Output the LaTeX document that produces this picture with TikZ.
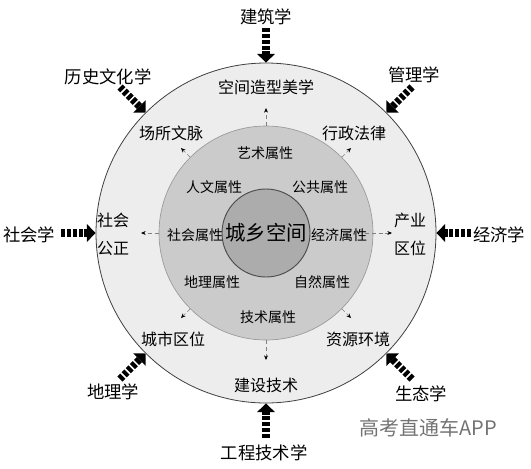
\documentclass[tikz,border=0pt]{standalone}
\usepackage{fontspec}
\setmainfont{Noto Sans CJK SC}
\usetikzlibrary{arrows.meta}
\definecolor{ringout}{RGB}{237,237,237}
\definecolor{ringmid}{RGB}{203,203,203}
\definecolor{ringcore}{RGB}{172,172,172}
\tikzset{every picture/.style={line width=0.75pt}}
\tikzset{
  bigarrow/.style={line width=5.5pt, dash pattern=on 3pt off 1.4pt, -{Triangle[length=6.5pt,width=13pt]}},
  smallarrow/.style={gray, line width=0.5pt, densely dashed, -{Stealth[length=3.5pt,width=3pt,black]}},
  outerlabel/.style={inner sep=0.75pt, font=\fontsize{13}{15}\selectfont},
  ringlabel/.style={inner sep=0.75pt, font=\fontsize{12}{21}\selectfont, align=center},
  midlabel/.style={inner sep=0.75pt, font=\fontsize{10.5}{12}\selectfont}
}

\begin{document}
\begin{tikzpicture}[x=0.75pt,y=0.75pt,yscale=-1,xscale=1]
%set diagram size 531 x 468
\path[use as bounding box] (0,0) rectangle (531,468);

%Shape: Circles
\node[circle, draw=black!75, line width=0.6pt, fill=ringout, minimum size=255pt, inner sep=0pt] (outer) at (266,233) {};
\node[circle, draw=black!40, line width=0.5pt, fill=ringmid, minimum size=160.5pt, inner sep=0pt] (mid) at (266,233) {};
\node[circle, draw=black!70, line width=0.7pt, fill=ringcore, minimum size=66pt, inner sep=0pt, font=\fontsize{15.3}{17}\selectfont] (core) at (266,233) {城乡空间};

%Small arrows from middle ring
\coordinate (sN) at (266,108);
\coordinate (sNE) at (351,148);
\coordinate (sE) at (392,233);
\coordinate (sSE) at (351,318);
\coordinate (sS) at (266,360);
\coordinate (sSW) at (181,318);
\coordinate (sW) at (141,233);
\coordinate (sNW) at (181,148);
\draw[smallarrow] (mid.90) -- (sN);
\draw[smallarrow] (mid.45) -- (sNE);
\draw[smallarrow] ([xshift=-6pt]mid.0) -- (sE);
\draw[smallarrow] (mid.-45) -- (sSE);
\draw[smallarrow] (mid.-90) -- (sS);
\draw[smallarrow] (mid.-135) -- (sSW);
\draw[smallarrow] (mid.180) -- (sW);
\draw[smallarrow] (mid.135) -- (sNW);

% Text Node: middle ring
\node[midlabel] (yishu) at (265,153) {艺术属性};
\node[midlabel] (renwen) at (214,187) {人文属性};
\node[midlabel] (gonggong) at (320,187) {公共属性};
\node[midlabel] (shehuisx) at (195,235) {社会属性};
\node[midlabel] (jingjisx) at (339,235) {经济属性};
\node[midlabel] (dilisx) at (212,282) {地理属性};
\node[midlabel] (ziran) at (322,282) {自然属性};
\node[midlabel] (jishusx) at (268,317) {技术属性};

% Text Node: outer ring
\node[ringlabel] (zaoxing) at (266,87) {空间造型美学};
\node[ringlabel] (xingzheng) at (354,133) {行政法律};
\node[ringlabel] (changsuo) at (171,133) {场所文脉};
\node[ringlabel] (chanye) at (410,234) {产业\\区位};
\node[ringlabel] (gongzheng) at (113,234) {社会\\公正};
\node[ringlabel] (chengshi) at (173,339) {城市区位};
\node[ringlabel] (ziyuan) at (358,339) {资源环境};
\node[ringlabel] (jianshe) at (266,385) {建设技术};

% Text Node: disciplines
\node[outerlabel] (jianzhu) at (266,17) {建筑学};
\node[outerlabel] (guanli) at (414,75) {管理学};
\node[outerlabel] (lishi) at (108,77) {历史文化学};
\node[outerlabel] (shehui) at (29,235) {社会学};
\node[outerlabel] (jingji) at (499,235) {经济学};
\node[outerlabel] (dili) at (113,392) {地理学};
\node[outerlabel] (shengtai) at (421,394) {生态学};
\node[outerlabel] (gongcheng) at (264,453) {工程技术学};

%Big arrows into the outer ring
\coordinate (tN) at (266,28);
\coordinate (tNE) at (412,87);
\coordinate (tE) at (471,233);
\coordinate (tSE) at (412,379);
\coordinate (tS) at (266,438);
\coordinate (tSW) at (120,379);
\coordinate (tW) at (61,233);
\coordinate (tNW) at (120,87);
\draw[bigarrow] (tN) -- (outer.90);
\draw[bigarrow] (tNE) -- (outer.45);
\draw[bigarrow] (tE) -- (outer.0);
\draw[bigarrow] (tSE) -- (outer.-45);
\draw[bigarrow] (tS) -- (outer.-90);
\draw[bigarrow] (tSW) -- (outer.-135);
\draw[bigarrow] (tW) -- (outer.180);
\draw[bigarrow] (tNW) -- (outer.135);

% Text Node: watermark
\node[inner sep=0.75pt, text=black!55, font=\fontsize{15}{17}\selectfont] (mark) at (428,428) {高考直通车APP};

\end{tikzpicture}
\end{document}
